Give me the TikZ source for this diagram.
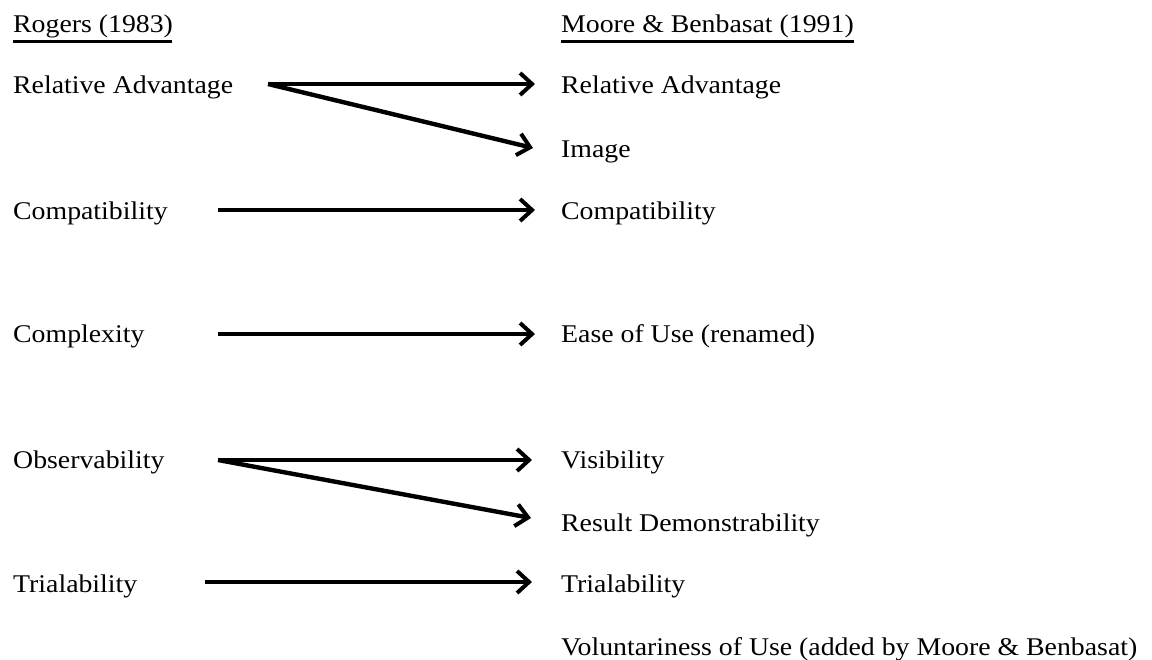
\documentclass[tikz,border=0pt]{standalone}
\usepackage{fontspec}
\setmainfont[FakeStretch=1.09]{Liberation Serif}
\usetikzlibrary{arrows.meta}
\begin{document}
\begin{tikzpicture}[x=1pt,y=-1pt,
  lbl/.style={anchor=base west, inner sep=0pt, font=\fontsize{25.5}{30}\selectfont},
  conn/.style={line width=4.4pt, -{Straight Barb[length=12pt,width=22pt,line width=4pt]}}]
\useasboundingbox (0,0) rectangle (1152,660);
% headers
\node[lbl] (hl) at (13,33) {Rogers (1983)};
\node[lbl] (hr) at (561,33) {Moore \& Benbasat (1991)};
\draw[line width=2.2pt] (hl.base west) ++(0,8.5) -- ++(159,0);
\draw[line width=2.2pt] (hr.base west) ++(0,8.5) -- ++(293,0);
% left
\node[lbl] (lra) at (13,94) {Relative Advantage};
\node[lbl] (lco) at (13,220) {Compatibility};
\node[lbl] (lcx) at (13,343) {Complexity};
\node[lbl] (lob) at (13,468) {Observability};
\node[lbl] (ltr) at (13,592) {Trialability};
% right
\node[lbl] (rra) at (561,94) {Relative Advantage};
\node[lbl] (rim) at (561,158) {Image};
\node[lbl] (rco) at (561,220) {Compatibility};
\node[lbl] (reu) at (561,343) {Ease of Use (renamed)};
\node[lbl] (rvi) at (561,468) {Visibility};
\node[lbl] (rrd) at (561,531) {Result Demonstrability};
\node[lbl] (rtr) at (561,592) {Trialability};
\node[lbl] (rvu) at (561,655) {Voluntariness of Use (added by Moore \& Benbasat)};
% arrow endpoints
\coordinate (sra) at (268,84);
\coordinate (era) at (535,84);
\coordinate (eim) at (533,148);
\coordinate (sco) at (218,210);
\coordinate (eco) at (535,210);
\coordinate (scx) at (218,334);
\coordinate (ecx) at (535,334);
\coordinate (sob) at (218,460);
\coordinate (evi) at (532,460);
\coordinate (erd) at (531,518);
\coordinate (str) at (205,582);
\coordinate (etr) at (532,582);
\draw[conn] (sra) -- (era);
\draw[conn] (sra) -- (eim);
\draw[conn] (sco) -- (eco);
\draw[conn] (scx) -- (ecx);
\draw[conn] (sob) -- (evi);
\draw[conn] (sob) -- (erd);
\draw[conn] (str) -- (etr);
\end{tikzpicture}
\end{document}
